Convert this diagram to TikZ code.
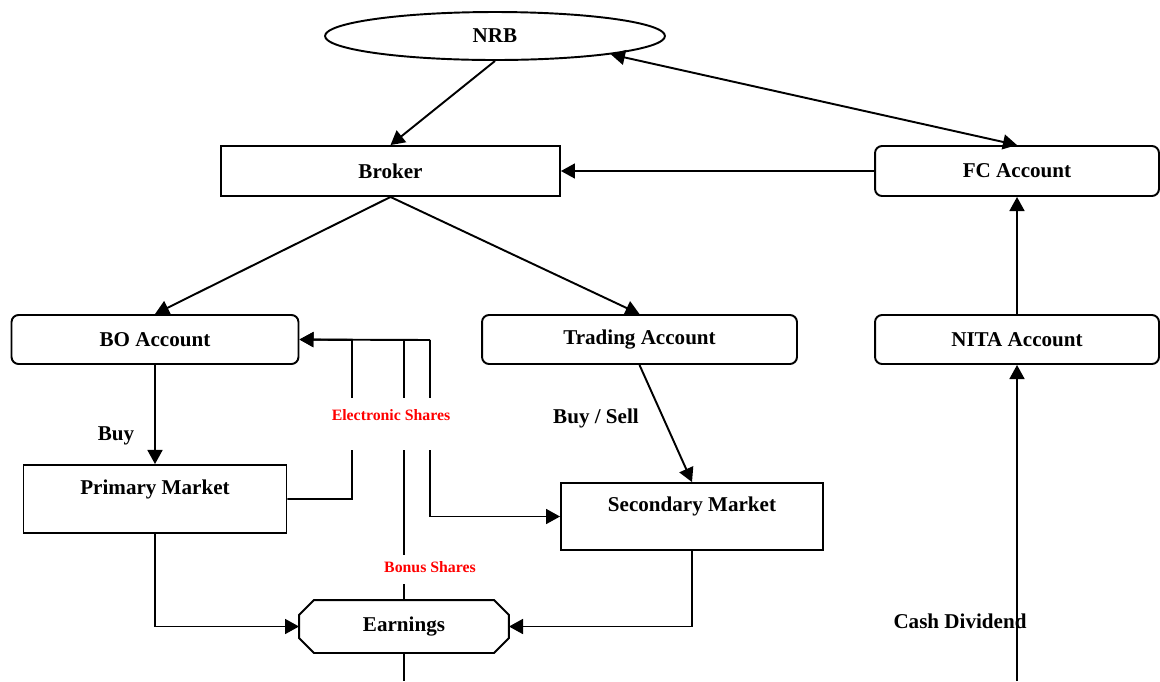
\documentclass[tikz,border=0pt]{standalone}
\usepackage{fontspec}
\setmainfont{Liberation Serif}
\usetikzlibrary{arrows.meta,shapes.geometric}

\tikzset{
    box/.style={draw, line width=1.1pt, inner sep=0pt, font=\fontsize{12}{14}\selectfont\bfseries},
    roundbox/.style={box, rounded corners=4pt},
    arr/.style={line width=1.1pt, -{Triangle[length=8pt,width=8.5pt]}},
    line/.style={line width=1.1pt},
    redlbl/.style={fill=white, inner sep=0pt, text=red, font=\fontsize{9}{11}\selectfont\bfseries},
    lbl/.style={font=\fontsize{12}{14}\selectfont\bfseries}
}

\begin{document}
\begin{tikzpicture}[x=0.02cm, y=-0.02cm]
    \useasboundingbox (0,0) rectangle (1160,681);

    % top row
    \node[box, ellipse, minimum width=6.8cm, minimum height=0.96cm] (nrb) at (495,36) {NRB};
    \node[box, minimum width=6.78cm, minimum height=1.0cm] (broker) at (390.5,171) {Broker};
    \node[roundbox, minimum width=5.68cm, minimum height=1.0cm] (fc) at (1017,171) {FC Account};

    % accounts
    \node[roundbox, minimum width=5.74cm, minimum height=0.98cm] (bo) at (155,339.5) {BO Account};
    \node[roundbox, minimum width=6.3cm, minimum height=0.98cm] (trading) at (639.5,339.5) {Trading Account};
    \node[roundbox, minimum width=5.68cm, minimum height=0.98cm] (nita) at (1017,339.5) {NITA Account};

    % markets (text sits near the top)
    \node[box, minimum width=5.26cm, text height=0.58cm, text depth=0.78cm] (pm) at (155,499) {Primary Market};
    \node[box, minimum width=5.24cm, text height=0.56cm, text depth=0.78cm] (sm) at (692,516.5) {Secondary Market};

    % earnings (octagon drawn round the node)
    \node[box, draw=none, minimum width=4.16cm, minimum height=1.02cm] (earn) at (404,626.5) {Earnings};
    \draw[line] ([xshift=0.3cm]earn.north west) -- ([xshift=-0.3cm]earn.north east)
        -- ([yshift=-0.3cm]earn.north east) -- ([yshift=0.3cm]earn.south east)
        -- ([xshift=-0.3cm]earn.south east) -- ([xshift=0.3cm]earn.south west)
        -- ([yshift=0.3cm]earn.south west) -- ([yshift=-0.3cm]earn.north west) -- cycle;

    % share lines
    \coordinate (e1) at (352,340);
    \coordinate (e2) at (404,340);
    \coordinate (e3) at (430,340);
    \coordinate (bot) at (404,681);
    \coordinate (cd) at (1017,681);

    % connections
    \draw[arr] (nrb.south) -- (broker.north);
    \draw[line, {Triangle[length=8pt,width=8.5pt]}-{Triangle[length=8pt,width=8.5pt]}] (nrb.-9) -- (fc.north);
    \draw[arr] (fc.west) -- (broker.east);
    \draw[arr] (broker.south) -- (bo.north);
    \draw[arr] (broker.south) -- (trading.north);
    \draw[arr] (nita.north) -- (fc.south);
    \draw[arr] (cd) -- (nita.south);
    \draw[arr] (bo.south) -- (pm.north);
    \draw[arr] (trading.south) -- (sm.north);
    \draw[arr] (pm.south) |- (earn.west);
    \draw[arr] (sm.south) |- (earn.east);

    \draw[arr] (pm.east) -| (e1) -- (bo.east);
    \draw[arr] (e3) -- (bo.east);
    \draw[arr] (e3) |- (sm.west);
    \draw[line] (e2) -- (earn.north);
    \draw[line] (earn.south) -- (bot);

    % labels
    \node[redlbl, text height=0.44cm, text depth=0.6cm] (es) at (391,424) {Electronic Shares};
    \node[redlbl, text height=0.34cm, text depth=0.24cm] (bs) at (430,569.5) {Bonus Shares};
    \node[lbl] (buy) at (116,436) {Buy};
    \node[lbl] (bsell) at (596,418) {Buy / Sell};
    \node[lbl] (cash) at (960,621) {Cash Dividend};
\end{tikzpicture}
\end{document}
